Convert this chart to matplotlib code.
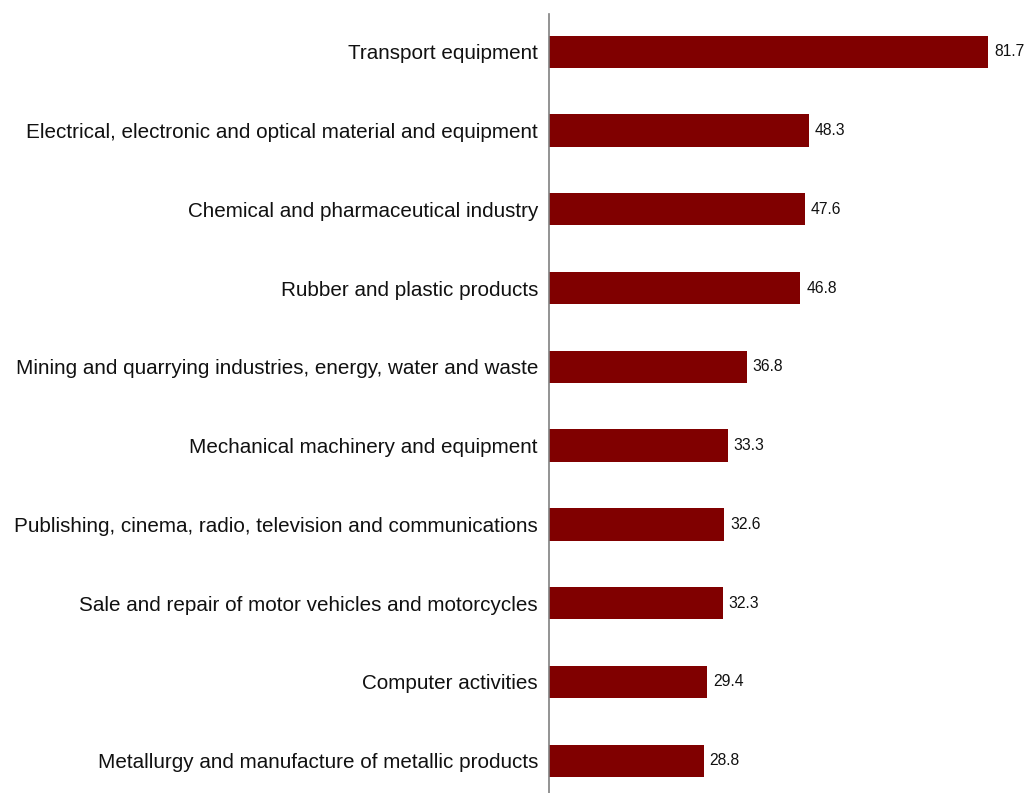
import matplotlib
matplotlib.use('Agg')
import numpy as np
from matplotlib import pyplot as plt

# Categories listed top to bottom as in the reference
categories = [
    'Transport equipment',
    'Electrical, electronic and optical material and equipment',
    'Chemical and pharmaceutical industry',
    'Rubber and plastic products',
    'Mining and quarrying industries, energy, water and waste',
    'Mechanical machinery and equipment',
    'Publishing, cinema, radio, television and communications',
    'Sale and repair of motor vehicles and motorcycles',
    'Computer activities',
    'Metallurgy and manufacture of metallic products',
]
values = [81.7, 48.3, 47.6, 46.8, 36.8, 33.3, 32.6, 32.3, 29.4, 28.8]

plt.rcParams['font.family'] = ['Liberation Sans', 'DejaVu Sans']

fig = plt.figure(figsize=(10.26, 7.93), dpi=100)
ax = fig.add_axes([549 / 1026, 0.0, (1010 - 549) / 1026, 1 - 14 / 793])

y = np.arange(len(categories))[::-1]
ax.barh(y, values, height=0.41, color='#800000')

for yi, v in zip(y, values):
    ax.text(v + 1.1, yi, f'{v:.1f}', va='center', ha='left', fontsize=11.3, color='#111111')

ax.set_yticks(y)
ax.set_yticklabels(categories, fontsize=14.9, color='#111111')
ax.tick_params(axis='y', length=0, pad=8)
ax.set_xticks([])
ax.set_xlim(0, (1010 - 549) / 5.373)
ax.set_ylim(-0.41, 9.48)

for s in ['top', 'right', 'bottom']:
    ax.spines[s].set_visible(False)
ax.spines['left'].set_color('#808080')
ax.spines['left'].set_linewidth(1.2)

fig.savefig('out.png', dpi=100)
